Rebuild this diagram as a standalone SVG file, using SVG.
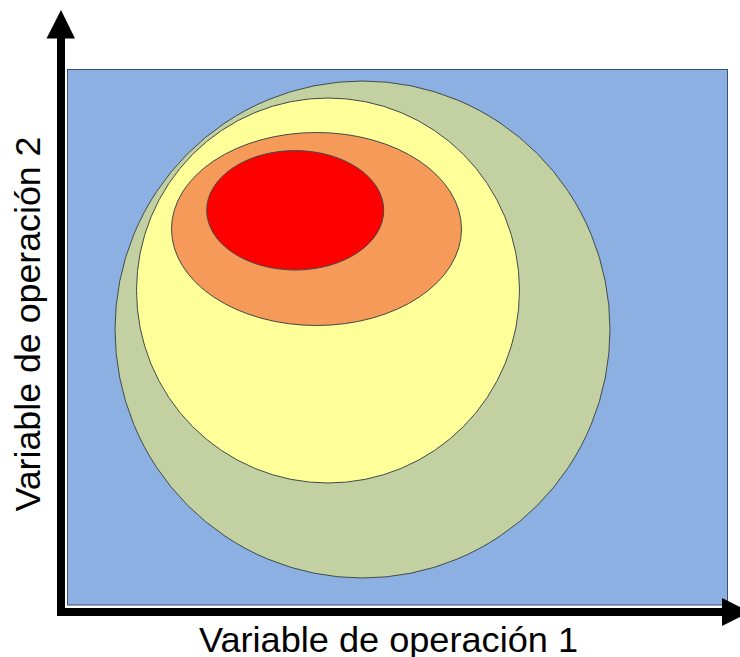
<svg xmlns="http://www.w3.org/2000/svg" width="740" height="657" viewBox="0 0 740 657">
  <style>
    .zone { stroke: #3f4a4a; stroke-width: 1; }
    .lbl { font-family: "Liberation Sans", Arial, sans-serif; font-size: 35px; fill: #000; }
    .axis { fill: none; stroke: #000; stroke-width: 8; stroke-linejoin: miter; }
  </style>
  <rect width="740" height="657" fill="#ffffff"/>
  <g id="plot-area">
    <rect x="67.5" y="69.5" width="660" height="535.5" fill="#8db0e2" stroke="#3b5272" stroke-width="1"/>
  </g>
  <g id="zone-green">
    <ellipse class="zone" cx="362.5" cy="329.5" rx="247.5" ry="248.5" fill="#c3d1a2"/>
  </g>
  <g id="zone-yellow">
    <ellipse class="zone" cx="328" cy="290.5" rx="191.5" ry="192.5" fill="#ffff99"/>
  </g>
  <g id="zone-orange">
    <ellipse class="zone" cx="316.5" cy="229" rx="145" ry="96.5" fill="#f59a58"/>
  </g>
  <g id="zone-red">
    <ellipse class="zone" cx="295.2" cy="210.3" rx="88.5" ry="59.7" fill="#ff0000"/>
  </g>
  <g id="axes">
    <path class="axis" d="M61,36 V612 H724"/>
    <polygon points="61,10 75,38.5 46.5,38.5" fill="#000"/>
    <polygon points="750,612 722,598 722,626" fill="#000"/>
  </g>
  <g id="labels">
    <text class="lbl" x="388.5" y="651.5" text-anchor="middle" textLength="379" lengthAdjust="spacingAndGlyphs">Variable de operación 1</text>
    <text class="lbl" transform="translate(40,324) rotate(-90)" x="0" y="0" text-anchor="middle" textLength="375" lengthAdjust="spacingAndGlyphs">Variable de operación 2</text>
  </g>
</svg>
